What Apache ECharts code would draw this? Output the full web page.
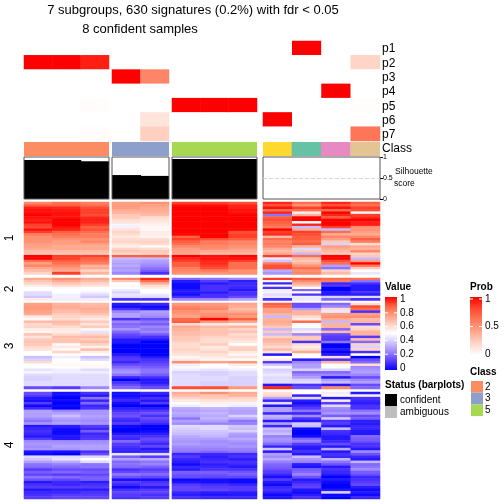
<!DOCTYPE html>
<html><head><meta charset="utf-8">
<style>html,body{margin:0;padding:0;background:#fff}#c{width:504px;height:504px}</style>
<script src="https://cdn.jsdelivr.net/npm/echarts@6/dist/echarts.min.js"></script>
</head><body><div id="c"></div>
<script>
// Column order: A1 A2 A3 | B1 B2 | C1 C2 C3 | D1 D2 D3 D4
const pLabels=['p1','p2','p3','p4','p5','p6','p7'];
const probRows=[
[0,0,0,0,0,0,0,0,0,1,0,0],
[1,1,.92,0,0,0,0,0,0,0,0,.2],
[0,0,0,1,.55,0,0,0,0,0,0,0],
[0,0,0,0,0,0,0,0,0,0,1,0],
[0,0,.015,0,0,1,1,1,0,0,0,.01],
[0,0,0,0,.13,0,0,0,1,0,0,0],
[0,0,.015,0,.22,0,0,0,0,0,0,.62]];
const classColors=['#fc8d62','#fc8d62','#fc8d62','#8da0cb','#8da0cb','#a6d854','#a6d854','#a6d854','#ffd92f','#66c2a5','#e78ac3','#e5c494'];
const silhouette=[.93,.93,.9,.57,.55,.95,.95,.95,0,0,0,0];
const g1Rows=[
[80,85,82,75,78,92,92,90,95,85,95,88],
[88,88,85,76,75,98,98,95,90,78,90,85],
[96,95,90,75,72,100,100,96,98,92,98,92],
[98,97,92,72,72,100,100,98,85,85,85,90],
[98,98,92,70,70,100,100,98,95,55,100,52],
[100,98,90,65,68,100,100,100,22,70,95,92],
[98,98,95,65,60,100,100,100,88,100,88,95],
[96,100,96,60,58,100,100,100,90,100,100,100],
[98,100,96,58,56,100,100,100,88,50,100,96],
[92,100,92,48,54,100,100,100,85,95,100,96],
[90,98,88,47,52,100,100,100,82,35,92,78],
[98,96,90,58,52,100,100,100,100,72,35,78],
[92,88,85,62,55,100,100,90,92,92,85,75],
[82,85,82,60,55,100,100,92,95,90,72,72],
[78,82,82,56,53,88,100,92,68,88,80,80],
[78,78,78,60,60,92,90,88,85,88,75,88],
[78,75,80,62,62,88,82,80,80,85,65,82],
[75,75,75,58,60,85,82,80,82,88,40,60],
[74,72,72,55,52,80,80,78,80,70,75,72],
[72,72,72,62,60,75,78,75,72,42,72,70],
[68,68,68,66,65,74,72,72,68,65,68,80],
[66,65,65,60,62,72,68,68,72,35,65,62],
[100,92,92,88,88,100,98,100,92,85,100,65],
[100,92,88,35,35,95,98,98,45,68,100,35],
[85,88,85,32,30,92,95,92,38,65,90,75],
[75,85,82,30,28,88,95,85,82,70,85,100],
[80,80,70,32,25,88,92,85,90,78,30,82],
[72,76,72,28,22,82,90,85,90,85,22,65],
[68,72,62,30,18,80,82,78,32,78,62,50],
[62,92,70,25,10,78,78,78,28,80,68,45]];
const g2Rows=[
[72,78,72,80,95,20,22,25,92,88,85,85],
[66,72,68,65,85,5,12,6,48,80,82,22],
[62,66,62,50,72,2,5,8,8,72,8,10],
[56,60,58,52,60,2,10,10,48,65,12,5],
[50,52,50,50,55,2,10,8,10,50,0,5],
[50,50,50,45,50,5,10,5,46,20,0,5],
[42,50,47,40,50,5,5,10,47,50,5,10],
[42,47,42,45,45,3,10,10,42,10,5,5],
[38,47,38,42,42,10,10,15,45,46,40,42],
[55,46,46,10,10,25,25,30,10,45,20,10]];
const g3A1=[75,76,76,74,72,56,52,68,60,62,55,52,66,58,64,66,65,60,58,50,50,36,40,60,50,50,44,48,42,40,40,42,42,15];
const g3A2=[70,72,70,68,64,62,60,68,66,60,56,55,60,68,66,66,52,56,52,62,50,46,50,50,52,50,46,46,42,42,42,42,42,12];
const g3A3=[68,70,72,70,66,60,56,64,58,64,52,44,62,68,64,68,62,54,68,55,50,36,42,50,52,52,42,46,42,42,42,42,42,25];
const g3B1=[5,2,10,25,30,30,10,25,20,22,28,20,15,12,5,5,0,0,0,0,5,10,12,8,15,20,25,28,22,8,0,10,15,20];
const g3B2=[8,2,5,30,28,25,15,22,18,25,22,25,18,10,5,0,0,0,0,0,0,5,10,12,15,18,22,22,18,10,5,5,10,15];
const g3C1=[76,80,82,78,76,74,86,88,60,72,70,68,68,65,65,62,60,60,62,60,58,52,56,78,46,52,46,40,42,42,42,42,42,90];
const g3C2=[76,78,80,74,78,80,100,76,56,68,66,66,66,62,60,60,64,56,58,62,58,56,52,74,50,50,44,40,40,42,42,40,40,90];
const g3C3=[74,72,68,72,78,76,88,72,54,70,62,66,60,62,60,56,50,62,64,56,52,58,50,76,55,50,46,42,42,40,40,40,40,76];
const g3D1=[88,85,75,75,70,35,70,72,70,65,35,65,35,62,70,68,65,60,68,58,5,50,55,12,38,48,40,42,45,42,42,42,5,95];
const g3D2=[15,15,30,70,70,60,55,85,50,50,42,55,25,65,65,10,60,55,60,72,50,50,5,25,30,30,40,20,25,30,40,42,10,15];
const g3D3=[20,25,60,45,75,78,72,35,70,70,20,68,15,12,10,22,0,0,5,0,5,60,10,70,50,50,40,20,25,5,30,35,5,80];
const g3D4=[60,90,85,10,75,78,68,70,15,60,62,70,70,12,68,20,62,40,62,10,50,0,15,20,60,25,28,30,25,15,25,30,15,20];
const g4A1=[15,12,5,3,12,2,8,30,30,30,26,22,28,5,8,10,8,5,12,26,28,26,28,4,2,42,38,30,22,20,12,18,14,22,16,5,10,12,5,8,10,12];
const g4A2=[3,2,0,2,0,2,0,25,30,36,30,28,30,6,3,2,2,5,5,26,28,30,28,3,0,42,44,32,24,20,15,20,12,20,14,8,8,12,6,8,12,14];
const g4A3=[10,5,22,8,20,8,10,28,28,30,28,26,28,12,8,18,8,10,12,26,28,30,30,10,15,42,50,42,22,22,15,18,14,18,18,6,10,12,6,10,12,14];
const g4B1=[3,2,5,8,3,0,6,10,14,16,10,8,12,2,0,0,5,10,8,20,12,10,8,6,44,18,30,20,22,20,10,14,22,16,3,12,8,2,10,14,12,10];
const g4B2=[8,3,10,5,12,0,5,12,16,10,15,12,8,0,0,2,6,10,15,12,8,14,5,8,42,12,32,22,24,18,12,16,20,14,3,10,12,5,12,14,10,12];
const g4C1=[72,68,62,56,50,46,32,30,32,30,22,30,26,42,40,38,36,32,30,28,30,26,24,22,8,12,8,6,2,8,5,18,16,15,2,4,12,14,14,8,6,10];
const g4C2=[78,66,64,58,54,48,34,32,34,32,34,30,24,42,42,38,36,34,30,26,28,26,24,20,8,6,8,10,6,8,10,18,16,14,3,3,10,12,14,6,4,8];
const g4C3=[72,70,62,58,48,46,32,30,30,40,32,22,24,38,36,40,30,28,32,28,26,28,24,22,8,10,6,10,8,5,10,16,18,14,2,2,8,12,12,6,5,8];
const g4D1=[58,62,30,8,42,5,30,30,8,34,30,5,30,8,36,32,36,24,28,26,20,8,38,5,30,26,32,24,20,18,15,12,8,3,12,5,2,8,10,6,2,4];
const g4D2=[50,8,42,6,3,8,12,22,8,26,10,5,38,36,2,0,0,2,20,24,12,6,5,10,5,36,28,24,6,4,18,20,24,16,5,8,12,14,4,2,6,10];
const g4D3=[46,52,5,56,12,42,26,24,28,18,38,10,12,5,36,10,8,5,5,8,15,5,32,5,10,8,34,22,16,5,10,8,5,0,5,2,0,0,5,40,2,0];
const g4D4=[5,46,10,8,6,10,10,22,26,15,18,6,5,8,8,5,5,20,18,16,10,10,5,26,16,8,5,34,20,22,26,18,15,8,10,12,14,6,2,5,2,8];
const valueTicks=['1','0.8','0.6','0.4','0.2','0'];
const probTicks=['1','0.5','0'];
const classLegend=[['2','#fc8d62'],['3','#8da0cb'],['5','#a6d854']];
const statusLegend=[['confident','#000000'],['ambiguous','#bebebe']];

const valueRamp=['#0000ff','#5a3cff','#9d86ff','#d0c6ff','#ffffff','#ffd2c4','#ff9e81','#ff6242','#ff0000'];
const probRamp=['#ffffff','#ffd5c8','#ffa78f','#ff7a5c','#ff4a2e','#ff0000'];
const FONT='"Liberation Sans",Arial,sans-serif';
const blocks=[{l:24,w:85,c:[0,1,2]},{l:112,w:57,c:[3,4]},{l:172,w:85,c:[5,6,7]},{l:263,w:117,c:[8,9,10,11]}];
const transpose=r=>r[0].map((_,i)=>r.map(x=>x[i]));
const groups=[
 {top:202,h:72.5,cols:transpose(g1Rows)},
 {top:278,h:22.5,cols:transpose(g2Rows)},
 {top:303,h:86,cols:[g3A1,g3A2,g3A3,g3B1,g3B2,g3C1,g3C2,g3C3,g3D1,g3D2,g3D3,g3D4]},
 {top:392,h:107,cols:[g4A1,g4A2,g4A3,g4B1,g4B2,g4C1,g4C2,g4C3,g4D1,g4D2,g4D3,g4D4]}];
const grid=[],xAxis=[],yAxis=[],series=[],valIdx=[],probIdx=[];
function panel(l,t,w,h,cats,yOpt,gridOpt){
 const i=grid.length;
 grid.push(Object.assign({left:l,top:t,width:w,height:h,show:false},gridOpt||{}));
 xAxis.push({type:'category',gridIndex:i,data:cats,show:false});
 yAxis.push(Object.assign({gridIndex:i,show:false},yOpt));
 return i;
}
const catAxis=n=>({type:'category',inverse:true,data:Array.from({length:n},(_,k)=>k)});
blocks.forEach((b,bi)=>{
 let i=panel(b.l,41,b.w,100,b.c,{type:'category',inverse:true,data:pLabels});
 const pd=[];b.c.forEach((c,x)=>probRows.forEach((r,y)=>pd.push([x,y,r[c]])));
 probIdx.push(series.length);
 series.push({type:'heatmap',xAxisIndex:i,yAxisIndex:i,data:pd,silent:true,progressive:0,animation:false});
 i=panel(b.l,142,b.w,14,b.c,{type:'value',min:0,max:1});
 series.push({type:'bar',xAxisIndex:i,yAxisIndex:i,barWidth:'104%',silent:true,animation:false,
   data:b.c.map(c=>({value:1,itemStyle:{color:classColors[c]}}))});
 const isD=bi===3;
 i=panel(b.l,157,b.w,42,b.c,isD?{type:'value',min:0,max:1,interval:.5,show:true,position:'right',
   axisLine:{show:false},splitLine:{show:false},
   axisTick:{show:true,length:3,lineStyle:{color:'#000'}},
   axisLabel:{fontSize:7,margin:3,color:'#000',fontFamily:FONT,formatter:v=>String(v)}}:{type:'value',min:0,max:1},
   {show:true,borderColor:'#555',borderWidth:1,backgroundColor:'transparent',z:5});
 series.push({type:'bar',xAxisIndex:i,yAxisIndex:i,barWidth:'104%',silent:true,animation:false,
   itemStyle:{color:'#000'},data:b.c.map(c=>silhouette[c]),
   markLine:isD?{silent:true,symbol:'none',label:{show:false},animation:false,
     lineStyle:{color:'#d9d9d9',type:'dashed',width:1},data:[{yAxis:.5}]}:undefined});
 groups.forEach(g=>{
  const n=g.cols[0].length;
  const k=panel(b.l,g.top,b.w,g.h,b.c,catAxis(n));
  const d=[];b.c.forEach((c,x)=>g.cols[c].forEach((v,y)=>d.push([x,y,v])));
  valIdx.push(series.length);
  series.push({type:'heatmap',xAxisIndex:k,yAxisIndex:k,data:d,silent:true,progressive:0,animation:false});
 });
});
const txt=(x,y,text,o)=>({type:'text',x,y,silent:true,style:Object.assign({text,fill:'#000',fontFamily:FONT,fontSize:9,verticalAlign:'middle'},o||{})});
const gfx=[];
gfx.push(txt(193,10,'7 subgroups, 630 signatures (0.2%) with fdr < 0.05',{fontSize:13,align:'center'}));
gfx.push(txt(140,29,'8 confident samples',{fontSize:13,align:'center'}));
pLabels.forEach((p,i)=>gfx.push(txt(382,49+i*14.3,p,{fontSize:12})));
gfx.push(txt(382,149,'Class',{fontSize:12}));
gfx.push(txt(395,172,'Silhouette',{fontSize:8.5}));
gfx.push(txt(394,184,'score',{fontSize:8.5}));
[['1',238],['2',289],['3',346],['4',445]].forEach(([s,y])=>gfx.push({type:'text',x:10,y,rotation:Math.PI/2,silent:true,
  style:{text:s,fill:'#000',fontFamily:FONT,fontSize:12,align:'center',verticalAlign:'middle'}}));
const grad=(ramp)=>({type:'linear',x:0,y:0,x2:0,y2:1,colorStops:ramp.slice().reverse().map((c,i,a)=>({offset:i/(a.length-1),color:c}))});
gfx.push(txt(385,287,'Value',{fontSize:10,fontWeight:'bold'}));
gfx.push({type:'rect',silent:true,shape:{x:385,y:297,width:12,height:73},style:{fill:grad(valueRamp)}});
valueTicks.forEach((t,i)=>{
 const y=299+i*13.8;
 gfx.push(txt(400,y,t,{fontSize:10}));
 if(i>0&&i<5)[[385,388],[394,397]].forEach(([a,b])=>gfx.push({type:'line',silent:true,shape:{x1:a,y1:y,x2:b,y2:y},style:{stroke:'#fff',lineWidth:1}}));
});
gfx.push(txt(470,287,'Prob',{fontSize:10,fontWeight:'bold'}));
gfx.push({type:'rect',silent:true,shape:{x:470,y:297,width:12,height:58},style:{fill:grad(probRamp)}});
probTicks.forEach((t,i)=>{
 const y=299+i*27.5;
 gfx.push(txt(485,y,t,{fontSize:10}));
 if(i<2)[[470,473],[479,482]].forEach(([a,b])=>gfx.push({type:'line',silent:true,shape:{x1:a,y1:y,x2:b,y2:y},style:{stroke:'#fff',lineWidth:1}}));
});
gfx.push(txt(470,372,'Class',{fontSize:10,fontWeight:'bold'}));
classLegend.forEach(([t,c],i)=>{
 gfx.push({type:'rect',silent:true,shape:{x:471,y:381+i*11.7,width:12,height:11.7},style:{fill:c}});
 gfx.push(txt(485,387+i*11.7,t,{fontSize:10}));
});
gfx.push(txt(385,385,'Status (barplots)',{fontSize:10,fontWeight:'bold'}));
statusLegend.forEach(([t,c],i)=>{
 gfx.push({type:'rect',silent:true,shape:{x:385,y:394+i*12,width:12,height:12},style:{fill:c}});
 gfx.push(txt(400,400+i*12,t,{fontSize:10}));
});
const chart=echarts.init(document.getElementById('c'),null,{renderer:'canvas'});
chart.setOption({animation:false,backgroundColor:'#fff',grid,xAxis,yAxis,series,
 visualMap:[
  {show:false,type:'continuous',min:0,max:100,dimension:2,seriesIndex:valIdx,calculable:false,inRange:{color:valueRamp}},
  {show:false,type:'continuous',min:0,max:1,dimension:2,seriesIndex:probIdx,calculable:false,inRange:{color:probRamp}}],
 graphic:{elements:gfx}});
</script></body></html>
